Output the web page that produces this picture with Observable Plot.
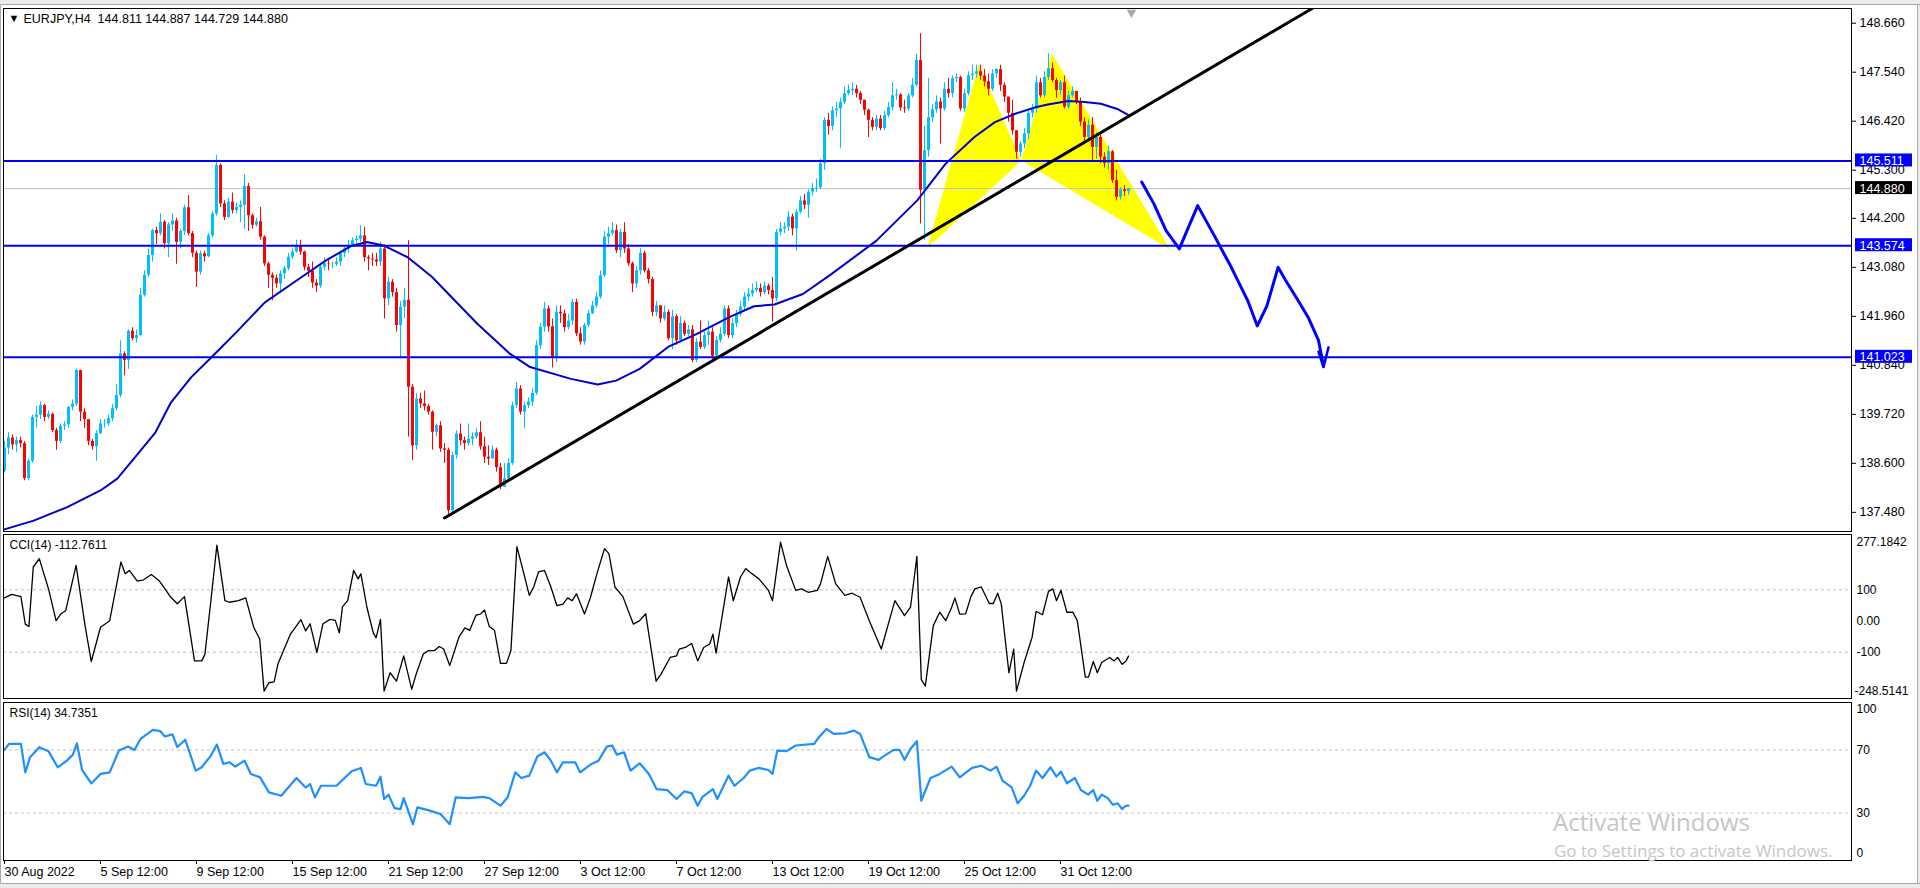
<!DOCTYPE html>
<html><head><meta charset="utf-8">
<script src="https://cdn.jsdelivr.net/npm/d3@7"></script>
<script src="https://cdn.jsdelivr.net/npm/@observablehq/plot@0.6"></script>
<style>
html,body{margin:0;padding:0;background:#fff;width:1920px;height:888px;overflow:hidden;}
#wrap{position:relative;width:1920px;height:888px;font-family:"Liberation Sans",Arial,sans-serif;}
#wrap svg{position:absolute;left:0;}
.chrome{position:absolute;background:#ececec;}
.wm{position:absolute;font-family:"Open Sans","Noto Sans",sans-serif;color:#c6c6c6;white-space:nowrap;line-height:1;}
</style></head>
<body><div id="wrap">
<div class="chrome" style="left:0;top:0;width:1920px;height:4px;border-bottom:1px solid #a8a8a8"></div>
<div class="chrome" style="left:1917px;top:5px;width:3px;height:880px;border-left:1px solid #a8a8a8"></div>
<div class="chrome" style="left:0;top:883px;width:1920px;height:5px;border-top:1px solid #a8a8a8"></div>
<div class="chrome" style="left:0;top:5px;width:1px;height:878px;background:#a8a8a8"></div>
</div>
<script>
// ---------------- DATA ----------------
const symbol = "EURJPY", timeframe = "H4";
const firstOpen = 138.42;
const closes = [138.95,139.18,139.02,139.12,139.05,138.25,138.65,139.65,139.70,139.92,
139.65,139.72,139.35,139.10,139.45,139.48,139.88,139.95,140.72,139.77,
139.60,139.10,138.98,139.28,139.50,139.50,139.62,139.85,140.15,141.10,
140.95,141.62,141.45,141.52,142.44,142.90,143.35,143.92,143.85,144.11,
143.62,144.05,144.14,143.65,143.90,144.44,143.85,143.40,142.97,143.39,
143.32,143.80,144.30,145.41,144.53,144.22,144.57,144.38,144.45,144.50,
144.93,144.26,144.04,144.12,143.77,143.16,142.90,142.83,142.70,142.93,
143.05,143.31,143.43,143.58,143.43,143.08,142.99,142.72,142.65,143.08,
143.16,143.15,143.15,143.20,143.40,143.50,143.58,143.69,143.72,143.80,
143.30,143.27,143.25,143.20,143.50,142.36,142.74,142.50,141.75,142.17,
142.33,140.34,139.00,140.07,139.96,139.90,139.77,139.31,139.46,138.93,
138.90,137.52,138.78,139.27,139.12,139.05,139.15,139.20,139.30,138.98,
138.74,138.70,138.90,138.50,138.05,138.25,138.60,139.92,140.30,139.77,
139.92,140.00,140.20,141.29,141.71,142.13,141.72,141.00,142.05,142.02,
141.70,141.85,142.28,141.56,141.37,141.75,142.02,142.20,142.40,142.89,
143.77,143.85,143.92,143.46,143.88,143.50,143.16,142.70,143.00,143.40,
143.00,142.80,142.05,142.20,141.90,142.05,141.45,141.95,141.40,141.80,
141.55,141.65,140.95,141.37,141.25,141.52,141.60,141.05,141.41,141.55,
142.13,141.52,141.79,142.00,142.17,142.40,142.47,142.55,142.60,142.50,
142.65,142.55,142.36,143.88,143.96,144.00,144.23,143.96,144.34,144.60,
144.50,144.80,144.88,144.90,145.45,146.44,146.30,146.66,146.70,146.85,
147.05,147.12,147.15,147.05,146.90,146.67,146.44,146.28,146.47,146.25,
146.55,146.73,147.00,147.02,146.72,146.70,147.00,147.24,147.81,144.84,
145.75,146.50,146.68,146.86,146.70,147.15,147.05,147.39,147.42,146.70,
147.05,147.46,147.50,147.55,147.45,147.32,147.15,147.50,147.60,147.24,
146.97,146.60,146.20,145.71,145.90,146.13,146.60,146.70,147.30,147.00,
147.42,147.62,147.35,147.12,147.30,146.74,147.00,147.10,146.85,146.40,
146.05,146.33,145.82,146.05,145.60,145.45,145.72,145.06,144.68,144.85,
144.811,144.880];
const highs = [139.10,139.30,139.25,139.20,139.20,139.10,138.70,139.70,139.90,140.00,
139.95,139.80,139.75,139.40,139.50,139.55,139.90,140.05,140.75,140.72,
139.85,139.60,139.15,139.35,139.60,139.60,139.70,139.95,140.40,141.40,
141.15,141.65,141.70,141.65,142.60,143.00,143.50,143.95,144.00,144.30,
144.15,144.10,144.30,144.20,143.95,144.50,144.72,143.90,143.45,143.45,
143.45,143.85,144.35,145.64,145.45,144.60,144.65,144.78,144.55,144.60,
145.20,145.00,144.30,144.20,144.45,143.80,143.20,142.95,142.90,143.00,
143.10,143.40,143.50,143.70,143.70,143.45,143.15,143.20,142.80,143.15,
143.30,143.25,143.20,143.30,143.45,143.55,143.70,143.75,143.80,144.03,
144.00,143.35,143.40,143.40,143.65,143.60,142.85,142.80,142.60,142.30,
142.60,143.69,140.40,140.20,140.20,140.25,139.95,139.80,139.50,139.55,
139.05,138.95,138.85,139.35,139.50,139.20,139.50,139.30,139.40,139.55,
139.20,139.00,139.00,138.95,138.60,138.60,138.70,140.00,140.45,140.38,
140.00,140.10,140.30,141.40,141.80,142.28,142.20,141.90,142.20,142.20,
142.10,142.00,142.35,142.35,141.70,141.80,142.10,142.30,142.50,143.00,
143.90,144.00,144.10,144.05,143.95,144.10,143.60,143.20,143.10,143.50,
143.45,143.05,142.85,142.30,142.10,142.20,142.10,142.10,142.00,141.95,
141.85,141.75,141.75,141.45,141.85,141.60,141.85,141.70,141.50,141.70,
142.20,142.20,141.90,142.10,142.30,142.50,142.60,142.70,142.75,142.70,
142.75,142.70,142.85,143.95,144.10,144.10,144.35,144.30,144.40,144.70,
144.75,144.85,145.00,145.10,145.55,146.50,146.60,146.75,146.85,146.95,
147.20,147.25,147.30,147.24,147.10,146.90,146.70,146.50,146.55,146.55,
146.65,146.85,147.30,147.15,147.05,146.90,147.05,147.40,147.95,148.42,
146.30,147.40,146.80,147.00,146.95,147.30,147.40,147.45,147.50,147.45,
147.15,147.55,147.70,147.70,147.70,147.60,147.50,147.60,147.62,147.70,
147.30,146.95,146.90,146.20,145.95,146.25,146.65,146.80,147.45,147.40,
147.55,147.96,147.75,147.40,147.35,147.45,147.10,147.20,147.10,146.95,
146.50,146.45,146.50,146.15,146.10,145.70,145.85,145.75,145.30,144.90,
144.95,144.887];
const lows = [138.38,138.80,138.90,138.85,138.95,138.20,138.20,138.60,139.40,139.60,
139.55,139.60,139.30,138.90,139.05,139.35,139.40,139.80,139.90,139.55,
139.40,139.00,138.90,138.65,139.25,139.40,139.45,139.55,139.80,140.10,
140.60,140.75,141.40,141.35,141.50,142.40,142.85,143.20,143.60,143.80,
143.50,143.30,143.90,143.15,143.50,143.80,143.80,143.30,142.62,142.90,
143.20,143.30,143.75,144.25,144.45,144.15,144.20,144.30,144.30,144.10,
143.95,143.90,143.95,144.00,143.70,143.10,142.60,142.32,142.60,142.50,
142.80,143.00,143.25,143.40,143.35,143.00,142.85,142.60,142.50,142.60,
143.00,143.00,143.05,143.10,143.10,143.30,143.40,143.55,143.60,143.65,
143.20,143.00,143.10,143.10,143.10,141.90,142.20,142.40,141.60,141.00,
141.90,139.20,138.66,138.90,139.85,139.80,139.70,138.90,139.20,138.85,
138.60,137.41,137.45,138.70,139.00,138.90,139.00,139.00,139.15,138.90,
138.60,138.55,138.70,138.40,138.00,138.05,138.20,138.55,139.85,139.70,
139.40,139.85,139.90,140.15,141.20,141.60,141.60,140.78,140.90,141.80,
141.60,141.65,141.75,141.50,141.30,141.30,141.70,142.00,142.15,142.35,
142.85,143.60,143.80,143.40,143.30,143.40,143.10,142.50,142.60,142.90,
142.95,142.70,141.95,141.95,141.80,141.85,141.40,141.20,141.30,141.35,
141.50,141.50,140.90,140.90,141.20,141.20,141.30,140.98,141.00,141.35,
141.50,141.45,141.45,141.70,141.95,142.10,142.30,142.40,142.50,142.40,
142.45,142.45,141.83,142.30,143.80,143.85,143.90,143.80,143.45,144.30,
144.40,144.20,144.70,144.80,144.85,145.30,146.10,146.20,146.50,145.80,
146.80,147.00,147.00,146.95,146.80,146.55,146.05,146.20,146.20,146.20,
146.20,146.50,146.65,146.90,146.65,146.60,146.65,146.95,147.20,144.07,
143.69,145.60,146.40,146.60,145.90,146.65,146.95,146.95,147.30,146.65,
146.62,147.00,147.35,147.40,147.35,147.20,147.00,147.10,147.40,147.10,
146.85,146.40,146.10,145.55,145.60,145.80,146.00,146.50,146.60,146.95,
146.95,147.35,147.30,146.95,147.00,146.70,146.70,146.95,146.80,146.30,
145.95,145.95,145.50,145.55,145.45,145.35,145.30,145.00,144.60,144.62,
144.70,144.729];

// moving average (blue curve): [bar, price]
const maPoints = [[0,137.09],[7.3,137.29],[15.7,137.6],[24,137.98],[28.2,138.25],[34,138.89],[37.75,139.31],[41.6,139.99],[46.7,140.57],[51.8,141.03],[58,141.6],[65.1,142.28],[74.3,142.86],[80.4,143.24],[86.5,143.56],[90.6,143.66],[94.7,143.58],[100.8,143.31],[106.9,142.86],[111,142.47],[118.2,141.79],[126.4,141.1],[131.4,140.8],[141.6,140.53],[148.3,140.4],[152.9,140.49],[158.8,140.76],[165.9,141.26],[173.1,141.56],[181.2,141.94],[187.4,142.19],[192.5,142.23],[199.6,142.47],[206.8,142.93],[218,143.69],[228.2,144.61],[235.3,145.45],[242.5,146.06],[247.6,146.4],[252.7,146.59],[257.8,146.74],[260.8,146.8],[266,146.88],[270,146.86],[274.1,146.82],[278.2,146.7],[281.2,146.55]];

// drawn objects
const levels = [145.511, 143.574, 141.023];
const trendPoints = [[110,137.35],[327,149.0]];
const harmonic = [
  {tri:"XAB", pts:[[230.7,143.52],[243.6,147.73],[254.2,145.52]]},
  {tri:"BCD", pts:[[254.2,145.52],[261.8,147.97],[291.5,143.48]]}
];
const projection = [[284.3,145.03],[287.35,144.53],[290.4,143.92],[293.7,143.5],[296,144.0],[298.3,144.49],[302.65,143.77],[306.7,143.08],[310.8,142.32],[313.2,141.74],[315.6,142.2],[318.4,143.08],[320.3,142.78],[323.4,142.32],[325.9,141.94],[328.5,141.41],[329.75,140.82]];
const arrowHead = [[328.5,141.15],[329.75,140.80],[331.0,141.25]];

// indicators: [bar, value]
const cciPoints = [[0,74],[1.8,85],[4.1,78],[5.2,-10],[6.1,-18],[7.2,173],[8.7,200],[11,103],[12.9,1],[14.1,23],[15.3,33],[17.9,178],[20.2,-20],[21.7,-130],[24,-20],[26.3,1],[29.1,189],[30.2,151],[31.2,162],[33.2,128],[34.8,132],[36.7,149],[38.6,130],[41.6,76],[43.2,55],[45,78],[47.5,-128],[49.3,-128],[50.1,-107],[51.6,65],[53.1,243],[55.1,65],[56.2,60],[58.5,65],[60.3,74],[62.3,-20],[63.8,-58],[64.9,-225],[66.1,-198],[67.4,-195],[68.4,-136],[71.5,-42],[74.1,4],[75.3,-32],[76.4,-9],[78.1,-101],[79.6,-9],[81.4,5],[82.7,2],[83.7,-38],[84.5,46],[85.8,65],[87.3,162],[88.4,135],[89.1,151],[90.6,44],[92.2,-38],[92.9,-54],[94,5],[94.9,-225],[96.4,-166],[98,-193],[99.8,-112],[101.8,-219],[102.9,-171],[104.7,-106],[106,-95],[107.5,-95],[108.7,-82],[109.8,-90],[111.3,-143],[113.6,-52],[115.1,-22],[116.3,-30],[117.9,19],[119,22],[120,35],[121.2,-18],[122.5,-30],[124,-136],[125.5,-136],[126.6,-95],[128.1,238],[129.2,184],[131.2,82],[132.3,109],[133.5,157],[135,162],[136.6,109],[138.1,49],[139.6,54],[140.8,74],[141.9,65],[143,87],[145,22],[146.5,76],[148.1,151],[150,232],[151.1,216],[152.6,109],[154.6,78],[157.2,-10],[158.8,1],[160.3,23],[162.9,-193],[164.1,-171],[166.4,-117],[168,-112],[168.7,-90],[170.2,-85],[171.8,-72],[173.3,-128],[174.8,-85],[176.3,-74],[177.1,-42],[177.9,-103],[181,141],[182.2,65],[184,141],[185.3,168],[186.3,157],[188.6,135],[191,98],[192,65],[194,253],[195.5,178],[197.8,98],[199.3,103],[200.9,92],[203.2,98],[204,119],[205.8,207],[207.8,119],[210.1,82],[211.9,89],[213.9,76],[216.2,1],[219.2,-90],[222.6,65],[225,17],[226.5,44],[228.1,207],[229.2,-188],[230.2,-209],[232.2,-15],[233.8,28],[235.3,1],[236.8,44],[237.6,74],[238.8,22],[240.3,23],[241.6,78],[242.6,103],[244.2,109],[246.2,56],[247.2,56],[248.3,89],[249.2,54],[251.1,-166],[252.3,-90],[253,-225],[254.9,-133],[256.9,-52],[257.9,31],[259.5,20],[261,95],[262.1,103],[263,65],[264.1,98],[265.6,28],[267.1,28],[268.2,1],[270.2,-180],[271,-180],[272.2,-130],[273.2,-166],[274.3,-133],[276.3,-117],[277.4,-128],[278.3,-117],[279.4,-139],[280.4,-128],[281,-112.7611]];
const rsiPoints = [[0,70],[1.1,73.8],[4.1,73.8],[5.2,55.8],[6.4,65.4],[8.7,71.7],[11,69.2],[13.3,59],[15.6,63.2],[17.1,67],[18.1,74.2],[19.4,57.3],[21.7,48.8],[24,54.8],[26.3,55.8],[28.6,69.6],[30.9,72.1],[32.5,70],[34,77],[37.1,82.7],[38.9,81.9],[40.1,78.5],[42,79.8],[43.2,71.8],[45.2,76.4],[47.8,56.9],[49.3,59],[51.6,66.4],[53.1,73.4],[54.7,61.1],[56.2,62.2],[57.7,59.4],[60,63.2],[61.6,54.8],[63.9,52.6],[66.1,43.1],[69.2,41],[73,52.2],[75.3,46.2],[76.4,48.4],[77.6,39.9],[79.1,47.3],[83,47.3],[86.8,56.5],[89.1,58.6],[90.3,48.4],[92.9,47.3],[94,53],[94.9,38.9],[96,41.6],[97.5,33.2],[99,32.5],[99.8,39.5],[102.1,23],[103.2,33.6],[105.9,31.9],[109,29.4],[111.3,23],[112.8,40],[115.9,39.5],[119.7,40.3],[121.2,39.5],[124,34.7],[125.8,40],[127.7,55.8],[129.2,52.2],[131.2,53.7],[133.2,65.8],[135,68.5],[136.6,63.2],[138.1,55.8],[139.6,62.1],[142.7,62.1],[143.9,55.8],[146.5,60.7],[148.5,63.2],[150.6,72.1],[151.9,72.8],[153.1,67],[154.9,68.5],[156.5,56.9],[158.8,61.5],[161.1,54.8],[163,45.2],[165.7,44.6],[168,38.9],[170,43.8],[171.8,42.5],[173.3,34.7],[174.5,40.3],[177.1,45.2],[178.2,38.9],[181,53.7],[182.5,47.3],[184.8,52.2],[186.3,56.9],[188.6,58.6],[191,57.3],[192,54.8],[193.2,69.6],[195.5,69.2],[197.8,72.8],[202.4,73.8],[203.6,78],[205.5,83.3],[207.3,80.1],[210.1,80.5],[212.4,82.2],[213.9,80.1],[216.2,65.4],[218.5,63.7],[220,66.4],[222.3,70],[223.8,70],[225,63.7],[226.5,70.7],[228.1,75.5],[229.2,37.8],[231.5,52.2],[233.8,54.8],[236.8,59.4],[238.8,52.6],[241.9,58.6],[244.2,60],[246.5,56.9],[248,59.4],[249.5,50.6],[251.8,46.3],[253.3,36.2],[254.9,41],[256.4,47.3],[257.9,56.9],[259.5,52.2],[261.5,59],[263,53.1],[264.1,56.3],[265.6,48.9],[267.6,52.2],[269.1,44.6],[270.9,41.7],[272.2,44.6],[273.2,37.8],[274.3,41.7],[275.8,39.5],[277.1,35.3],[278.3,36.2],[279.4,32.6],[280.4,34.7],[281,34.7351]];
const cciValue = "-112.7611", rsiValue = "34.7351";
const cciRange = [-248.5141, 277.1842];
const cciLevels = [100, -100];
const cciMidLabels = [100, 0, -100];
const rsiLevels = [70, 30];
const rsiMidLabels = [70, 30];

// axes
const priceRange = [137.042, 148.996];
const priceTicks = [148.66,147.54,146.42,145.30,144.20,143.08,141.96,140.84,139.72,138.60,137.48];
const xTickBars = [0,24,48,72,96,120,144,168,192,216,240,264];
const xTickLabels = ["30 Aug 2022","5 Sep 12:00","9 Sep 12:00","15 Sep 12:00","21 Sep 12:00","27 Sep 12:00","3 Oct 12:00","7 Oct 12:00","13 Oct 12:00","19 Oct 12:00","25 Oct 12:00","31 Oct 12:00"];

// ---------------- CHART ----------------
const UP = "#00bfff", DOWN = "#ff0000", LEVEL = "#0000ff";
const FONT = '"Liberation Sans", Arial, sans-serif';
const xDomain = [-0.25, 461.75];
const XEND = xDomain[1];

const candles = closes.map((c, i) => {
  const o = i === 0 ? firstOpen : closes[i - 1];
  return {i, o, c, h: Math.max(highs[i], o, c), l: Math.min(lows[i], o, c), col: c >= o ? UP : DOWN};
});
const last = candles[candles.length - 1];
const header = `${symbol},${timeframe}\u00a0\u00a0${last.o.toFixed(3)} ${last.h.toFixed(3)} ${last.l.toFixed(3)} ${last.c.toFixed(3)}`;
const boxes = [...levels.map(v => ({v, fill: LEVEL})), {v: last.c, fill: "#000000"}];
const triPts = harmonic.flatMap(t => t.pts.map(p => ({tri: t.tri, i: p[0], p: p[1]})));
const tickLabelMap = new Map(xTickBars.map((b, k) => [b, xTickLabels[k]]));

const common = {
  width: 1920, marginLeft: 3, marginRight: 69,
  x: {domain: xDomain, axis: null},
  color: {type: "identity"},
  style: {fontFamily: FONT, fontSize: "12.5px", background: "transparent", color: "black", overflow: "visible"}
};

const main = Plot.plot({
  ...common, height: 532, marginTop: 8, marginBottom: 1,
  y: {domain: priceRange, axis: null},
  marks: [
    Plot.line(triPts, {x: "i", y: "p", z: "tri", fill: "#ffff00", stroke: "none", clip: true}),
    Plot.ruleY([last.c], {stroke: "#c0c0c0", strokeWidth: 1}),
    Plot.ruleX(candles, {x: "i", y1: "l", y2: "h", stroke: "col", strokeWidth: 1}),
    Plot.ruleX(candles, {x: "i", y1: "o", y2: "c", stroke: "col", strokeWidth: 3}),
    Plot.ruleY(levels, {stroke: LEVEL, strokeWidth: 2}),
    Plot.line(maPoints, {x: d => d[0], y: d => d[1], stroke: "#0000cd", strokeWidth: 2, clip: true}),
    Plot.line(trendPoints, {x: d => d[0], y: d => d[1], stroke: "#000000", strokeWidth: 3, clip: true}),
    Plot.line(projection, {x: d => d[0], y: d => d[1], stroke: LEVEL, strokeWidth: 3, strokeLinejoin: "round", strokeLinecap: "round", clip: true}),
    Plot.line(arrowHead, {x: d => d[0], y: d => d[1], stroke: LEVEL, strokeWidth: 2.5, strokeLinejoin: "round", clip: true}),
    Plot.frame({stroke: "black"}),
    Plot.axisY(priceTicks, {anchor: "right", tickSize: 4, tickPadding: 4, tickFormat: d => d.toFixed(3), fontSize: 12.5}),
    Plot.rect(boxes, {x1: () => XEND, x2: () => XEND, y1: "v", y2: "v", insetLeft: 4, insetRight: -61, insetTop: -7, insetBottom: -6, fill: "fill", clip: false}),
    Plot.text(boxes, {x: () => XEND, y: "v", text: d => d.v.toFixed(3), dx: 8, textAnchor: "start", fill: "white", fontSize: 12.5}),
    Plot.dot([last.i], {x: d => d, frameAnchor: "top", dy: 4, dx: 3, symbol: "triangle", r: 3.5, fill: "#a8a8a8", stroke: "none", rotate: 180}),
    Plot.text(["\u25BC"], {frameAnchor: "top-left", dx: 5, dy: 10, lineAnchor: "middle", textAnchor: "start", fontSize: 11}),
    Plot.text([header], {frameAnchor: "top-left", dx: 20, dy: 10, lineAnchor: "middle", textAnchor: "start", fontSize: 12.5})
  ]
});
main.style.top = "0px";

const cci = Plot.plot({
  ...common, height: 166, marginTop: 1, marginBottom: 1,
  y: {domain: cciRange, axis: null},
  marks: [
    Plot.ruleY(cciLevels, {stroke: "#c0c0c0", strokeDasharray: "3,3"}),
    Plot.line(cciPoints, {x: d => d[0], y: d => d[1], stroke: "#000000", strokeWidth: 1.3}),
    Plot.frame({stroke: "black"}),
    Plot.text(cciMidLabels, {x: () => XEND, y: d => d, text: d => d === 0 ? "0.00" : String(d), dx: 5, textAnchor: "start", fontSize: 12}),
    Plot.text([cciRange[1]], {x: () => XEND, y: d => d, text: d => d.toFixed(4), dx: 5, dy: 8, textAnchor: "start", fontSize: 12}),
    Plot.text([cciRange[0]], {x: () => XEND, y: d => d, text: d => d.toFixed(4), dx: 3, dy: -7, textAnchor: "start", fontSize: 12}),
    Plot.text([`CCI(14) ${cciValue}`], {frameAnchor: "top-left", dx: 6, dy: 11, lineAnchor: "middle", textAnchor: "start", fontSize: 12})
  ]
});
cci.style.top = "533px";

const rsi = Plot.plot({
  ...common, height: 189, marginTop: 3, marginBottom: 28,
  y: {domain: [0, 100], axis: null},
  marks: [
    Plot.ruleY(rsiLevels, {stroke: "#c0c0c0", strokeDasharray: "3,3"}),
    Plot.line(rsiPoints, {x: d => d[0], y: d => d[1], stroke: "#1e90ff", strokeWidth: 2.2}),
    Plot.frame({stroke: "black"}),
    Plot.text(rsiMidLabels, {x: () => XEND, y: d => d, text: d => String(d), dx: 5, textAnchor: "start", fontSize: 12}),
    Plot.text([100], {x: () => XEND, y: d => d, text: d => String(d), dx: 5, dy: 7, textAnchor: "start", fontSize: 12}),
    Plot.text([0], {x: () => XEND, y: d => d, text: d => String(d), dx: 5, dy: -7, textAnchor: "start", fontSize: 12}),
    Plot.text([`RSI(14) ${rsiValue}`], {frameAnchor: "top-left", dx: 6, dy: 11, lineAnchor: "middle", textAnchor: "start", fontSize: 12}),
    Plot.axisX(xTickBars, {anchor: "bottom", tickSize: 4, tickPadding: 3, tickFormat: d => tickLabelMap.get(d), textAnchor: "start", dx: 0, fontSize: 12.5})
  ]
});
rsi.style.top = "699px";

const wrap = document.getElementById("wrap");
wrap.appendChild(main);
wrap.appendChild(cci);
wrap.appendChild(rsi);

const wm1 = document.createElement("div");
wm1.className = "wm"; wm1.textContent = "Activate Windows";
wm1.style.cssText = "left:1553px;top:810px;font-size:24px;";
const wm2 = document.createElement("div");
wm2.className = "wm"; wm2.textContent = "Go to Settings to activate Windows.";
wm2.style.cssText = "left:1554px;top:842px;font-size:17px;";
wrap.appendChild(wm1); wrap.appendChild(wm2);
</script></body></html>
